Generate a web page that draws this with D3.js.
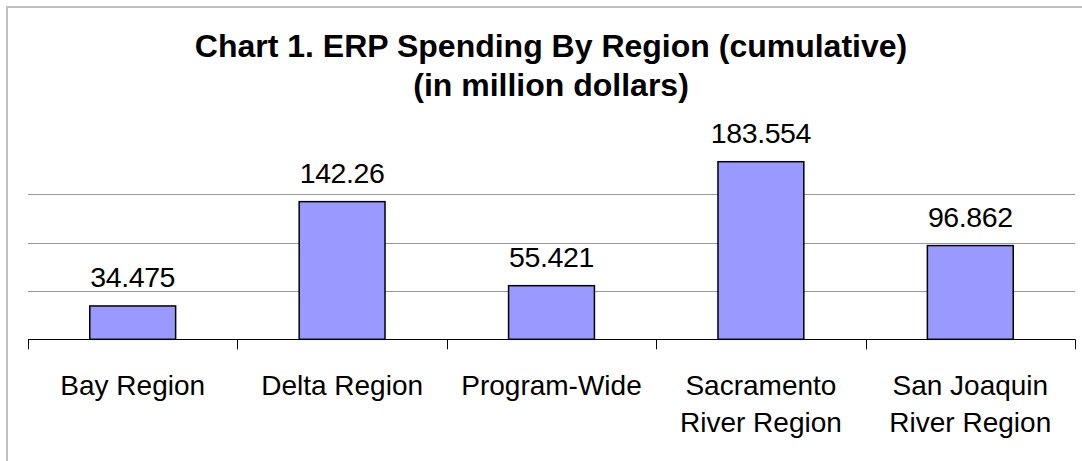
<!DOCTYPE html>
<html lang="en">

<head>
    <meta charset="UTF-8">
    <title>ERP Spending By Region</title>
    <style>
        body {
            margin: 0;
            background: #fff;
        }

        text {
            font-family: "Liberation Sans", Arial, sans-serif;
            fill: #000;
        }

        .grid line {
            stroke: #999;
            stroke-width: 1px;
        }

        .bar {
            fill: #9999ff;
            stroke: #000;
            stroke-width: 1.5px;
        }
    </style>
</head>

<body>
    <svg id="chart" width="1082" height="461"></svg>
    <script src="https://cdn.jsdelivr.net/npm/d3@7"></script>

    <script>
        const categories = ["Bay Region", "Delta Region", "Program-Wide", "Sacramento River Region", "San Joaquin River Region"];
        const labelLines = [["Bay Region"], ["Delta Region"], ["Program-Wide"], ["Sacramento", "River Region"], ["San Joaquin", "River Region"]];
        const spending = [34.475, 142.26, 55.421, 183.554, 96.862];
        const valueLabels = ["34.475", "142.26", "55.421", "183.554", "96.862"];
        const gridValues = [50, 100, 150];
        const titleLines = ["Chart 1. ERP Spending By Region (cumulative)", "(in million dollars)"];

        const svg = d3.select("#chart");

        const plot = { left: 28, right: 1075, top: 145.8, bottom: 339.3 };

        // chart area border (only top and left edges are inside the picture)
        svg.append("path")
            .attr("d", "M7,461 L7,7 L1082,7")
            .attr("fill", "none")
            .attr("stroke", "#c0c0c0")
            .attr("stroke-width", 2);

        const x = d3.scaleBand()
            .domain(categories)
            .range([plot.left, plot.right])
            .paddingInner(0.59)
            .paddingOuter(0.295);

        const y = d3.scaleLinear()
            .domain([0, 200])
            .range([plot.bottom, plot.top]);

        // gridlines
        svg.append("g")
            .attr("class", "grid")
            .selectAll("line")
            .data(gridValues)
            .enter().append("line")
            .attr("x1", plot.left)
            .attr("x2", plot.right)
            .attr("y1", d => Math.round(y(d)) + 0.5)
            .attr("y2", d => Math.round(y(d)) + 0.5);

        // bars
        svg.selectAll(".bar")
            .data(spending)
            .enter().append("rect")
            .attr("class", "bar")
            .attr("x", (d, i) => x(categories[i]))
            .attr("width", x.bandwidth())
            .attr("y", d => y(d))
            .attr("height", d => y(0) - y(d));

        // category axis: baseline plus ticks between categories
        const step = x.step();
        const tickXs = d3.range(categories.length + 1).map(i => plot.left + i * step);
        svg.append("line")
            .attr("x1", plot.left).attr("x2", plot.right)
            .attr("y1", Math.round(plot.bottom) + 0.5).attr("y2", Math.round(plot.bottom) + 0.5)
            .attr("stroke", "#000");
        svg.selectAll(".tick")
            .data(tickXs)
            .enter().append("line")
            .attr("class", "tick")
            .attr("x1", d => Math.round(d) + 0.5).attr("x2", d => Math.round(d) + 0.5)
            .attr("y1", plot.bottom).attr("y2", plot.bottom + 10)
            .attr("stroke", "#000");

        // value labels
        svg.selectAll(".value")
            .data(spending)
            .enter().append("text")
            .attr("class", "value")
            .attr("x", (d, i) => x(categories[i]) + x.bandwidth() / 2)
            .attr("y", d => y(d) - 19)
            .attr("text-anchor", "middle")
            .style("font-size", "28.5px")
            .style("letter-spacing", "-0.4px")
            .text((d, i) => valueLabels[i]);

        // category labels
        const cat = svg.selectAll(".cat")
            .data(categories)
            .enter().append("text")
            .attr("class", "cat")
            .attr("x", d => x(d) + x.bandwidth() / 2)
            .attr("y", 395)
            .attr("text-anchor", "middle")
            .style("font-size", "28px");
        cat.selectAll("tspan")
            .data((d, i) => labelLines[i])
            .enter().append("tspan")
            .attr("x", function () { return this.parentNode.getAttribute("x"); })
            .attr("dy", (d, i) => i === 0 ? 0 : 37)
            .text(d => d);

        // title
        svg.selectAll(".title")
            .data(titleLines)
            .enter().append("text")
            .attr("class", "title")
            .attr("x", 551)
            .attr("y", (d, i) => 57 + i * 39)
            .attr("text-anchor", "middle")
            .style("font-size", "32px")
            .style("font-weight", "bold")
            .text(d => d);
    </script>

</body>

</html>
